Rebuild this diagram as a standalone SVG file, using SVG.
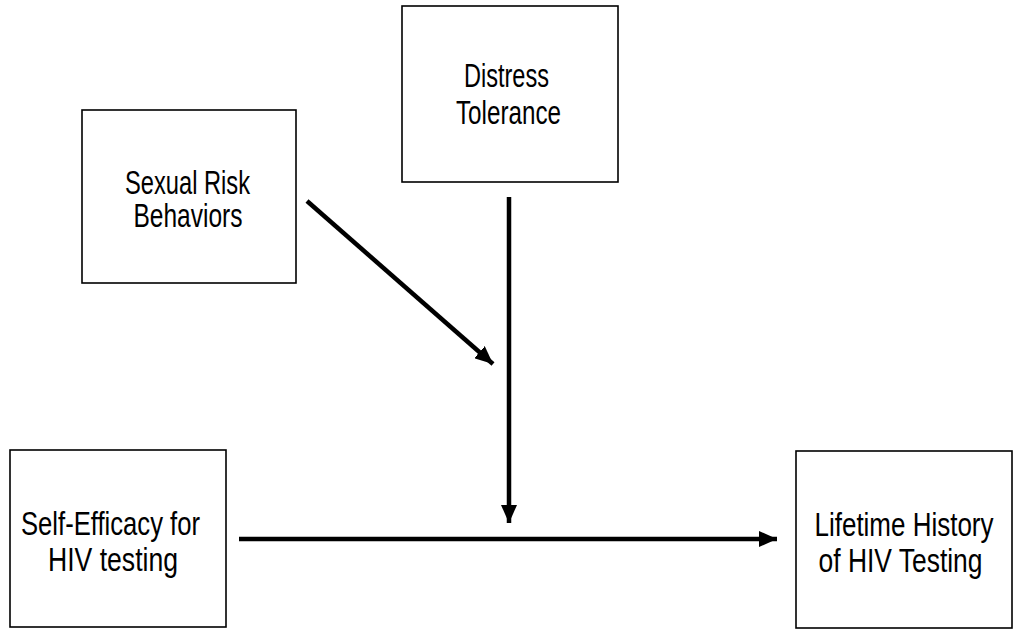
<svg xmlns="http://www.w3.org/2000/svg" width="1013" height="634" viewBox="0 0 1013 634">
<style>
.box{fill:#fff;stroke:#000;stroke-width:1.6}
.t{font-family:"Liberation Sans",Arial,sans-serif;font-size:24px;fill:#000}
.c{stroke:#000;stroke-width:4.5;fill:none}
</style>
<defs>
<marker id="ah" markerUnits="userSpaceOnUse" markerWidth="20" markerHeight="16" refX="18" refY="8" orient="auto">
<path d="M0,0 L18,8 L0,16 Z" fill="#000"/>
</marker>
</defs>
<rect width="1013" height="634" fill="#fff"/>
<g id="n-sexual">
<rect class="box" x="82" y="110" width="214" height="173"/>
<text class="t" transform="translate(125,194) scale(1,1.38)" textLength="125" lengthAdjust="spacingAndGlyphs">Sexual Risk</text>
<text class="t" transform="translate(133.5,227) scale(1,1.38)" textLength="109" lengthAdjust="spacingAndGlyphs">Behaviors</text>
</g>
<g id="n-distress">
<rect class="box" x="402" y="6" width="216" height="176"/>
<text class="t" transform="translate(464,87) scale(1,1.38)" textLength="85" lengthAdjust="spacingAndGlyphs">Distress</text>
<text class="t" transform="translate(456,124) scale(1,1.38)" textLength="105" lengthAdjust="spacingAndGlyphs">Tolerance</text>
</g>
<g id="n-selfefficacy">
<rect class="box" x="10" y="450" width="216" height="177"/>
<text class="t" transform="translate(21,535) scale(1,1.38)" textLength="179" lengthAdjust="spacingAndGlyphs">Self-Efficacy for</text>
<text class="t" transform="translate(48,571) scale(1,1.38)" textLength="130" lengthAdjust="spacingAndGlyphs">HIV testing</text>
</g>
<g id="n-lifetime">
<rect class="box" x="796" y="451" width="216" height="177"/>
<text class="t" transform="translate(814.5,536) scale(1,1.38)" textLength="179" lengthAdjust="spacingAndGlyphs">Lifetime History</text>
<text class="t" transform="translate(818.5,572) scale(1,1.38)" textLength="164" lengthAdjust="spacingAndGlyphs">of HIV Testing</text>
</g>
<g id="connectors">
<line class="c" x1="307" y1="201" x2="493" y2="364" marker-end="url(#ah)"/>
<line class="c" x1="509" y1="197" x2="509" y2="523" marker-end="url(#ah)"/>
<line class="c" x1="239" y1="539" x2="777" y2="539" marker-end="url(#ah)"/>
</g>
</svg>
